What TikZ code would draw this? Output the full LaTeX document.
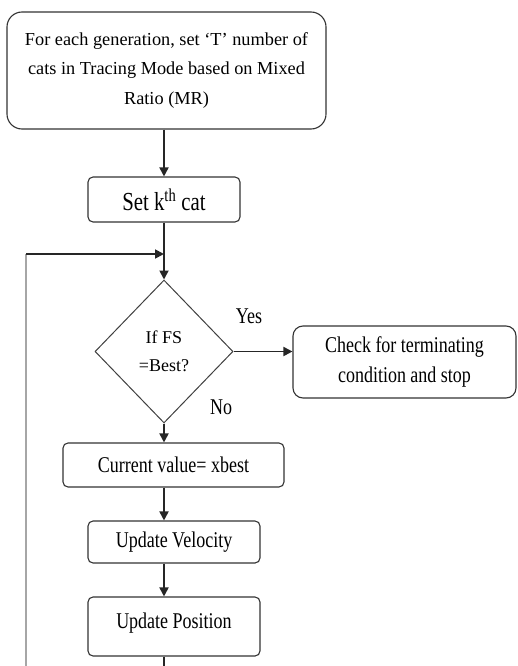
\documentclass[tikz,border=0pt]{standalone}
\usepackage{fontspec}
\setmainfont{Liberation Serif}
\newfontfamily\narrowfont[FakeStretch=0.8]{Liberation Serif}
\usetikzlibrary{shapes.geometric,arrows.meta}

\tikzset{
  box/.style={draw=black!80,line width=1.1pt,rounded corners=5pt,inner sep=0pt,
    align=center,font=\narrowfont\fontsize{22.5}{30}\selectfont},
  decision/.style={diamond,draw=black!75,line width=1pt,inner sep=0pt,align=center,
    font=\fontsize{18}{28}\selectfont},
  answer/.style={font=\narrowfont\fontsize{22.5}{27}\selectfont},
  flow/.style={line width=1.8pt,draw=black!85,-{Triangle[length=9pt,width=9pt]}},
  plain/.style={line width=1.8pt,draw=black!85},
  loopline/.style={line width=2.4pt,draw=black!35},
}

\begin{document}
\begin{tikzpicture}[x=1pt,y=-1pt]

\useasboundingbox (0,0) rectangle (517,666);

\node[box,rounded corners=15pt,minimum width=319pt,minimum height=117pt,
  font=\fontsize{18.3}{29.5}\selectfont] (init) at (166.5,70.5)
  {For each generation, set ‘T’ number of\\cats in Tracing Mode based on Mixed\\Ratio (MR)};

\node[box,minimum width=152pt,minimum height=45pt,
  font=\narrowfont\fontsize{26}{30}\selectfont] (setk) at (164,199.5)
  {Set k\textsuperscript{th} cat};

\node[decision,minimum width=138pt,minimum height=143pt] (cond) at (164,351.5)
  {If FS\\=Best?};

\node[box,rounded corners=10pt,minimum width=223pt,minimum height=72pt] (check) at (404.5,362)
  {Check for terminating\\condition and stop};

\node[box,minimum width=221pt,minimum height=44pt] (current) at (173.5,465)
  {Current value= xbest};

\node[box,minimum width=172pt,minimum height=42pt] (velocity) at (174,542)
  {Update Velocity};

\node[box,minimum width=172pt,minimum height=59pt,text depth=12pt] (position) at (174,626.5)
  {Update Position};

\node[answer] (yes) at (249,316) {Yes};
\node[answer] (no) at (221,407) {No};

\coordinate (join) at (164,254);
\coordinate (loop) at (26,254);
\coordinate (loopend) at (26,666);
\coordinate (exit) at (164,666);

\draw[flow] (init.south -| setk.north) -- (setk.north);
\draw[flow] (setk.south) -- (cond.north);
\draw[loopline] (loopend) -- (loop);
\draw[flow] (loop) -- (join);
\draw[flow] (cond.east) -- (cond.east -| check.west);
\draw[flow] (cond.south) -- (cond.south |- current.north);
\draw[flow] (current.south -| cond.south) -- (velocity.north -| cond.south);
\draw[flow] (velocity.south -| cond.south) -- (position.north -| cond.south);
\draw[plain] (position.south -| cond.south) -- (exit);

\end{tikzpicture}
\end{document}
